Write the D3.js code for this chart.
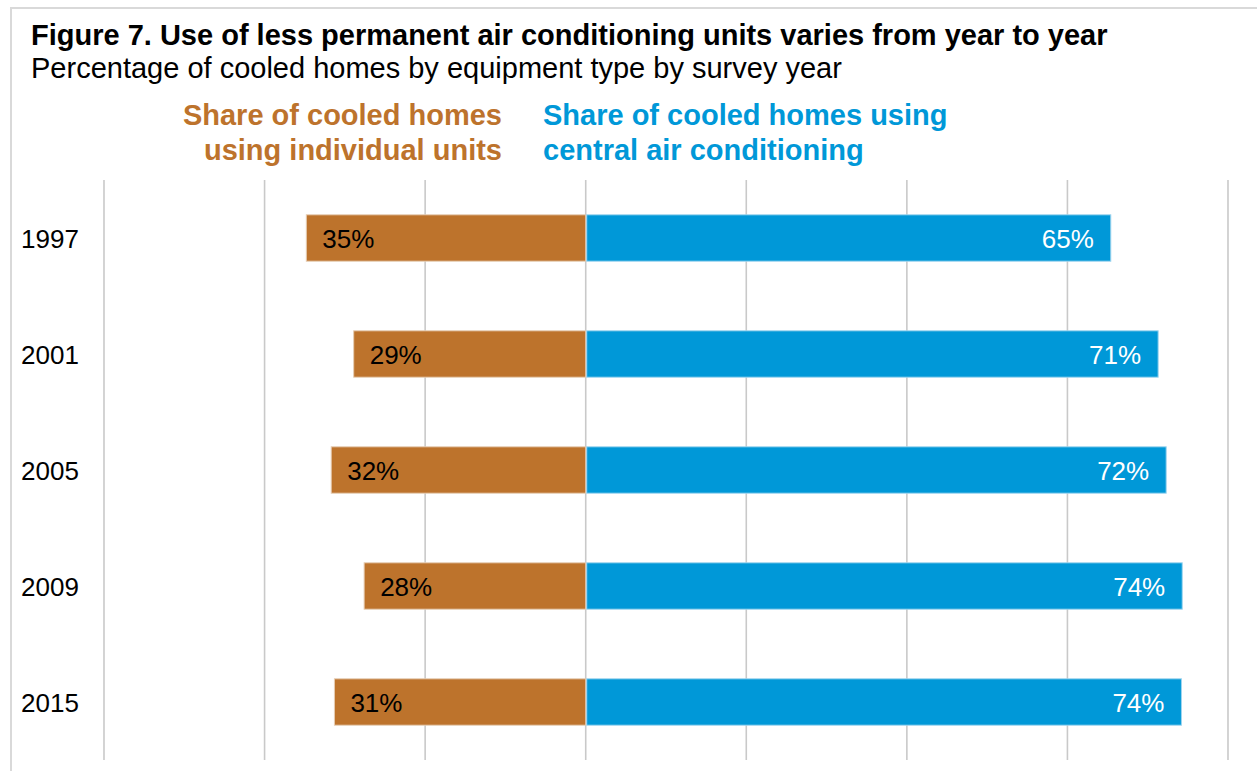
<!DOCTYPE html>
<html><head><meta charset="utf-8">
<script src="https://cdn.jsdelivr.net/npm/d3@7"></script>
<style>body{margin:0;background:#fff;} svg{display:block;font-family:"Liberation Sans",Arial,sans-serif;}</style>
</head><body>
<svg id="c" width="1257" height="771"></svg>
<script>
const years = ["1997","2001","2005","2009","2015"];
const individualValues = [34.8, 28.9, 31.7, 27.6, 31.3];
const centralValues = [65.4, 71.3, 72.3, 74.3, 74.2];
const individualLabels = ["35%","29%","32%","28%","31%"];
const centralLabels = ["65%","71%","72%","74%","74%"];
const gridTicks = [-60,-40,-20,0,20,40,60,80];

const orange = "#BD732C", blue = "#0098D8";
const svg = d3.select("#c");

// frame
svg.append("rect").attr("x",11).attr("y",8).attr("width",1260).attr("height",780)
  .attr("fill","none").attr("stroke","#d9d9d9").attr("stroke-width",2);

const x = d3.scaleLinear().domain([-60,80]).range([104,1228]);
const y = d3.scaleBand().domain(years).range([180,760]).paddingInner(0.6).paddingOuter(0.3);

// gridlines
svg.append("g").selectAll("line").data(gridTicks).join("line")
  .attr("x1",d=>x(d)).attr("x2",d=>x(d)).attr("y1",180).attr("y2",760)
  .attr("stroke","#c9c9c9").attr("stroke-width",1.6);

// title
svg.append("text").attr("x",31).attr("y",45).attr("font-size",29).attr("font-weight","bold")
  .attr("fill","#000").text("Figure 7. Use of less permanent air conditioning units varies from year to year");
svg.append("text").attr("x",31).attr("y",78).attr("font-size",29)
  .attr("fill","#000").text("Percentage of cooled homes by equipment type by survey year");

// legend headers
const lt = svg.append("text").attr("font-size",29).attr("font-weight","bold").attr("fill",orange).attr("text-anchor","end");
lt.append("tspan").attr("x",502).attr("y",125).text("Share of cooled homes");
lt.append("tspan").attr("x",502).attr("y",160).text("using individual units");
const rt = svg.append("text").attr("font-size",29).attr("font-weight","bold").attr("fill",blue).attr("text-anchor","start");
rt.append("tspan").attr("x",543).attr("y",125).text("Share of cooled homes using");
rt.append("tspan").attr("x",543).attr("y",160).text("central air conditioning");

const rows = years.map((yr,i)=>({yr, l:individualValues[i], r:centralValues[i], ll:individualLabels[i], rl:centralLabels[i]}));

// bars
svg.append("g").selectAll("rect").data(rows).join("rect")
  .attr("x",d=>x(-d.l)).attr("y",d=>y(d.yr)).attr("width",d=>x(0)-x(-d.l)).attr("height",y.bandwidth())
  .attr("fill",orange).attr("stroke","#e6cdb4").attr("stroke-width",1);
svg.append("g").selectAll("rect").data(rows).join("rect")
  .attr("x",x(0)+1).attr("y",d=>y(d.yr)).attr("width",d=>x(d.r)-x(0)-1).attr("height",y.bandwidth())
  .attr("fill",blue).attr("stroke","#9fd5ef").attr("stroke-width",1);

// value labels
svg.append("g").selectAll("text").data(rows).join("text")
  .attr("x",d=>x(-d.l)+16).attr("y",d=>y(d.yr)+y.bandwidth()/2+9.5)
  .attr("font-size",26).attr("fill","#000").text(d=>d.ll);
svg.append("g").selectAll("text").data(rows).join("text")
  .attr("x",d=>x(d.r)-17).attr("y",d=>y(d.yr)+y.bandwidth()/2+9.5).attr("text-anchor","end")
  .attr("font-size",26).attr("fill","#fff").text(d=>d.rl);

// year labels
svg.append("g").selectAll("text").data(rows).join("text")
  .attr("x",21).attr("y",d=>y(d.yr)+y.bandwidth()/2+9.5)
  .attr("font-size",26).attr("fill","#000").text(d=>d.yr);
</script>
</body></html>
